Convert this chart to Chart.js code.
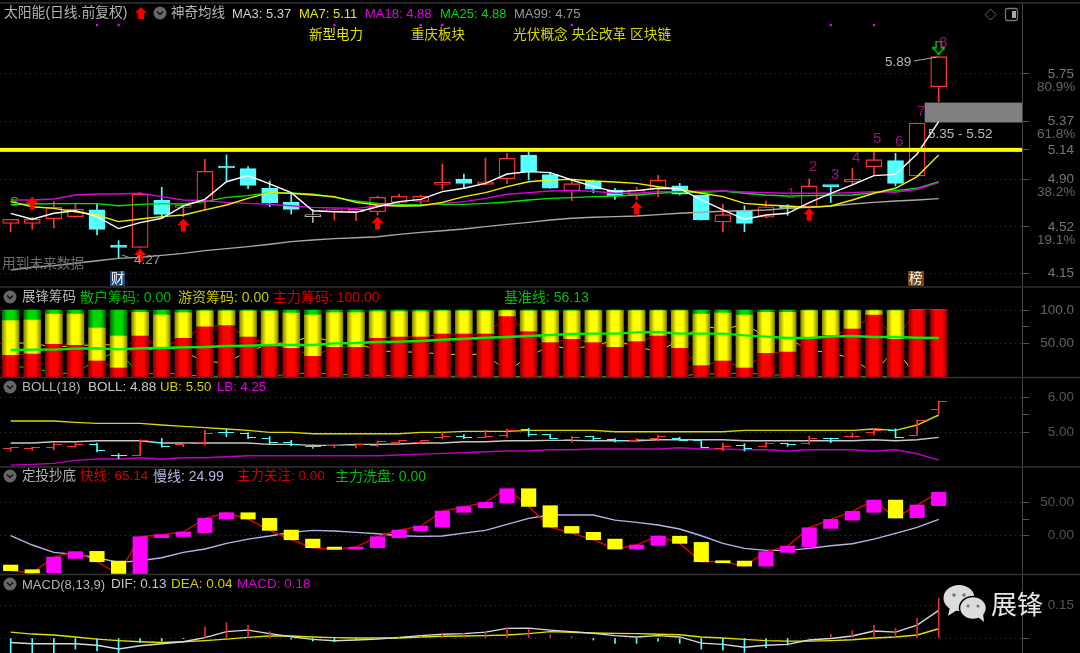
<!DOCTYPE html>
<html>
<head>
<meta charset="utf-8">
<title>太阳能</title>
<script src="https://cdn.jsdelivr.net/npm/chart.js@4/dist/chart.umd.js"></script>
<style>
  html, body { margin: 0; padding: 0; background: #000; width: 1080px; height: 653px; overflow: hidden; }
  canvas, svg { position: absolute; left: 0; }
  .t { position: absolute; white-space: nowrap; transform: translateY(-50%); font-family: "Liberation Sans", "Noto Sans CJK SC", sans-serif; font-size: 13.5px; line-height: 1; }
</style>
</head>
<body>
<div id="page"></div>
<script>
const days = Array.from({ length: 44 }, (_, i) => i);

// candles
const opens = [4.549,4.549,4.587,4.603,4.657,4.367,4.356,4.737,4.678,4.724,5.008,4.989,4.831,4.721,4.603,4.643,4.643,4.643,4.718,4.726,4.863,4.906,4.863,4.908,5.099,4.941,4.812,4.890,4.817,4.775,4.823,4.850,4.775,4.560,4.651,4.598,4.689,4.683,4.850,4.882,5.005,5.053,4.930,5.648];
const highs = [4.582,4.598,4.724,4.705,4.705,4.410,4.796,4.839,4.691,5.064,5.099,5.005,4.890,4.783,4.662,4.662,4.662,4.769,4.785,4.777,5.026,4.946,5.075,5.112,5.126,4.951,4.898,4.898,4.831,4.839,4.935,4.871,4.777,4.705,4.691,4.729,4.700,4.906,4.850,4.992,5.126,5.112,5.356,5.889];
const lows = [4.482,4.501,4.512,4.598,4.456,4.268,4.356,4.590,4.603,4.657,4.884,4.828,4.683,4.624,4.557,4.576,4.571,4.616,4.710,4.705,4.825,4.831,4.858,4.871,4.898,4.831,4.732,4.796,4.742,4.742,4.764,4.777,4.576,4.482,4.482,4.592,4.614,4.678,4.718,4.866,4.935,4.850,4.930,5.528];
const closes = [4.582,4.582,4.678,4.662,4.501,4.356,4.785,4.622,4.691,4.967,4.994,4.855,4.716,4.662,4.603,4.651,4.662,4.758,4.766,4.766,4.879,4.871,4.884,5.072,4.962,4.833,4.868,4.825,4.772,4.817,4.895,4.783,4.576,4.619,4.549,4.683,4.670,4.850,4.844,4.903,5.061,4.871,5.356,5.889];

// moving averages
const ma3 = [4.630,4.582,4.630,4.651,4.603,4.507,4.555,4.590,4.689,4.742,4.884,4.933,4.866,4.796,4.651,4.643,4.638,4.683,4.724,4.742,4.804,4.831,4.871,4.946,4.965,4.957,4.898,4.844,4.804,4.812,4.831,4.828,4.737,4.657,4.582,4.616,4.630,4.716,4.791,4.858,4.933,4.943,5.107,5.367];
const ma7 = [4.724,4.683,4.670,4.643,4.616,4.563,4.584,4.603,4.616,4.657,4.697,4.750,4.796,4.791,4.777,4.764,4.718,4.697,4.689,4.691,4.718,4.764,4.796,4.844,4.884,4.898,4.903,4.890,4.882,4.871,4.844,4.823,4.791,4.764,4.710,4.697,4.689,4.678,4.689,4.737,4.791,4.831,4.925,5.099];
const ma18 = [4.737,4.737,4.745,4.777,4.785,4.785,4.791,4.764,4.737,4.732,4.718,4.710,4.702,4.691,4.678,4.673,4.670,4.689,4.691,4.694,4.710,4.724,4.750,4.783,4.796,4.809,4.812,4.807,4.791,4.791,4.804,4.804,4.807,4.809,4.801,4.796,4.791,4.791,4.791,4.796,4.804,4.799,4.823,4.876];
const ma25 = [4.700,4.705,4.708,4.708,4.708,4.691,4.702,4.708,4.705,4.724,4.758,4.772,4.796,4.791,4.785,4.758,4.729,4.710,4.702,4.700,4.702,4.702,4.710,4.721,4.737,4.750,4.756,4.764,4.769,4.777,4.791,4.801,4.796,4.809,4.791,4.777,4.769,4.772,4.775,4.777,4.796,4.812,4.831,4.884];
const ma99 = [4.174,4.196,4.209,4.228,4.249,4.268,4.276,4.292,4.308,4.330,4.346,4.362,4.381,4.402,4.415,4.426,4.434,4.442,4.461,4.477,4.490,4.504,4.523,4.541,4.557,4.576,4.590,4.598,4.603,4.608,4.619,4.630,4.638,4.646,4.651,4.657,4.670,4.678,4.689,4.705,4.718,4.729,4.737,4.748];

// signals on the main panel, by day
const upArrows = [null,4.713,null,null,null,null,4.295,null,4.536,null,null,null,null,null,null,null,null,4.552,null,null,null,null,null,null,null,null,null,null,null,4.673,null,null,null,null,null,null,null,4.622,null,null,null,null,null,null];
const downArrows = days.map(i => (i === 43 ? 5.962 : null));
const dotDays = [4, 5, 15, 19, 20, 26, 38, 40];
const dotLevel = 6.144;
const resistance = 5.14;
const gapBand = [5.36, 5.52];
const priceTicks = [5.75, 5.37, 5.14, 4.90, 4.52, 4.15];

// 展锋筹码
const chipMain = [32.7,34.7,49,47.5,24.3,13.9,61.4,44.6,57.9,75.2,76.7,59.9,49,43.1,31.2,44.6,44.6,57.9,59.9,59.9,64.4,64.4,64.4,90.1,67.8,51.5,56.4,51.5,44.6,53,61.4,43.1,17.3,24.3,13.9,35.6,37.6,59.4,61.9,71.8,92.6,56.4,100,100];
const chipHot = [51.5,50.4,45,46.5,49,47.5,35.1,48,38.1,23.3,21.8,38.6,49,52.4,61.4,51.4,51.4,39.6,37.6,37.6,34.1,34.1,34.1,8.9,30.7,47,42.1,47.5,54.4,46,37.6,55.9,76.7,71.2,78.7,60.9,58.9,39.6,37.1,27.2,6.4,42.6,0,0];
const chipRetail = [15.8,14.9,6,6,26.7,38.6,3.5,7.4,4,1.5,1.5,1.5,2,4.5,7.4,4,4,2.5,2.5,2.5,1.5,1.5,1.5,1,1.5,1.5,1.5,1,1,1,1,1,6,4.5,7.4,3.5,3.5,1,1,1,1,1,0,0];
const chipBase = [40.6,41.1,41.1,42.6,43.1,41.6,43.1,43.6,44.6,45,46.5,47,48,48,48,50.5,51,52.5,53,54,55.9,57.4,58.9,59.9,61.4,62.9,64.4,64.9,64.9,66.8,67.3,64.9,64.9,64.9,62.4,60.4,58.4,58.4,60.4,61.4,59.9,59.9,58.9,58.4];

// BOLL
const bollUp = [5.33,5.33,5.33,5.292,5.264,5.264,5.264,5.217,5.179,5.142,5.104,5.066,5.009,5.009,4.972,4.972,4.972,4.972,4.972,5.009,5.009,5.038,5.038,5.038,5.066,5.066,5.066,5.066,5.028,5.028,5.028,5.028,5.028,5.028,5.066,5.066,5.066,5.066,5.066,5.066,5.104,5.066,5.217,5.5];
const bollMid = [4.708,4.708,4.745,4.745,4.774,4.774,4.774,4.708,4.708,4.708,4.708,4.708,4.670,4.670,4.642,4.642,4.670,4.670,4.679,4.708,4.708,4.745,4.745,4.774,4.774,4.783,4.783,4.774,4.774,4.774,4.802,4.802,4.802,4.802,4.774,4.774,4.774,4.774,4.774,4.774,4.802,4.774,4.802,4.868];
const bollLow = [4.085,4.104,4.132,4.217,4.255,4.255,4.292,4.255,4.292,4.292,4.321,4.349,4.349,4.349,4.349,4.349,4.349,4.349,4.368,4.396,4.415,4.434,4.462,4.481,4.491,4.519,4.519,4.538,4.538,4.538,4.538,4.575,4.538,4.538,4.519,4.519,4.481,4.519,4.519,4.519,4.481,4.519,4.406,4.226];

// 定投抄底
const fastOpen = [-44.4,-51.5,-56.1,-34.3,-23.7,-38.4,-58.1,-3.0,-1.0,4.5,25.3,34.8,26.3,8.6,-5.1,-17.2,-20.2,-18.2,-3.0,7.6,13.1,35.4,42.4,49.5,71.2,45.5,14.1,5.1,-5.1,-20.2,-14.6,0,-10.1,-37.9,-38.4,-46.0,-25.3,-16.7,11.1,23.7,35.4,54.0,27.3,45.5];
const fastClose = [-53.0,-56.6,-32.3,-24.2,-39.4,-58.1,-1.5,1.5,5.6,26.3,34.8,25.3,8.1,-6.1,-18.2,-20.7,-17.2,-1.5,8.6,14.6,37.4,43.9,50.5,71.2,44.4,13.1,4.0,-6.1,-20.2,-14.1,0,-11.6,-39.4,-39.4,-46.0,-24.2,-15.7,12.1,24.7,36.9,54.0,26.8,46.5,65.7];
const slowLine = [0,-14.1,-25.3,-28.3,-33.3,-40.4,-37.9,-33.3,-25.3,-20.2,-11.6,-5.1,-0.5,5.1,8.1,7.1,5.1,3,0,-1,-0.5,4,8.1,17.2,26.3,31.3,31.3,31.3,23.7,20.2,16.2,10.1,0,-11.6,-19.2,-22.2,-22.2,-19.2,-15.2,-12.1,-5.1,3.5,12.6,24.7];

// MACD
const dif = [-0.020,-0.026,-0.026,-0.026,-0.033,-0.050,-0.035,-0.026,-0.017,0.002,0.029,0.036,0.020,0.006,-0.006,-0.012,-0.009,-0.005,0.003,0.011,0.017,0.020,0.027,0.044,0.045,0.036,0.029,0.021,0.011,0.005,0.011,0.005,-0.023,-0.029,-0.042,-0.033,-0.029,-0.009,-0.002,0.009,0.032,0.027,0.059,0.126];
const dea = [0.027,0.018,0.014,0.005,-0.005,-0.012,-0.017,-0.020,-0.017,-0.012,-0.005,0.003,0.009,0.009,0.005,0.002,0,0,0,0.005,0.008,0.009,0.011,0.014,0.020,0.029,0.026,0.023,0.021,0.020,0.017,0.015,0.005,0,-0.006,-0.012,-0.014,-0.014,-0.012,-0.008,0,0.005,0.014,0.042];
const macd = [-0.070,-0.070,-0.070,-0.050,-0.059,-0.070,-0.020,-0.014,-0.003,0.050,0.070,0.059,0.029,-0.005,-0.014,-0.017,-0.009,-0.003,0.002,0.006,0.021,0.021,0.029,0.047,0.041,0.014,0.006,-0.009,-0.024,-0.024,-0.014,-0.024,-0.050,-0.055,-0.065,-0.044,-0.032,0,0.018,0.033,0.059,0.044,0.089,0.180];

const RED = '#ff3434';
const CYAN = '#54ffff';
const FONT = '"Liberation Sans", "Noto Sans CJK SC", sans-serif';
const page = document.getElementById('page');

const candleColor = i => (closes[i] > opens[i] ? RED : closes[i] < opens[i] ? CYAN : '#b0b0b0');
const candleColors = days.map(candleColor);

function line(data, color, order, width) {
  return { type: 'line', data, borderColor: color, borderWidth: width || 1.4, pointRadius: 0, tension: 0, order, spanGaps: false };
}

// minor ticks get a short mark on the axis but no label or grid line
function panel(top, height, min, max, ticks, minor, tickColor, format, datasets, plugins) {
  const cv = document.createElement('canvas');
  cv.width = 1074;
  cv.height = height;
  cv.style.top = top + 'px';
  page.appendChild(cv);
  return new Chart(cv, {
    type: 'bar',
    data: { labels: days, datasets },
    plugins: plugins || [],
    options: {
      responsive: false,
      animation: false,
      devicePixelRatio: 1,
      events: [],
      layout: { padding: 0, autoPadding: false },
      plugins: { legend: { display: false }, tooltip: { enabled: false } },
      scales: {
        x: { type: 'linear', display: false, offset: false, min: -0.4943, max: 46.86, grid: { display: false, offset: false } },
        y: {
          position: 'right',
          min, max,
          afterBuildTicks: s => { s.ticks = ticks.concat(minor).map(value => ({ value })); },
          afterFit: s => { s.width = 52; s.paddingTop = 0; s.paddingBottom = 0; },
          grid: {
            color: c => (c.tick && minor.includes(c.tick.value) ? 'transparent' : '#3a3a3a'),
            tickColor: '#555', tickLength: 7, tickBorderDash: []
          },
          border: { color: '#444', dash: [1, 4] },
          ticks: { autoSkip: false, crossAlign: 'far', color: tickColor, font: { family: FONT, size: 13.5 }, callback: v => (minor.includes(v) ? '' : format(v)) }
        }
      }
    }
  });
}

// little images used as point styles
function arrowImage(color, down, hollow) {
  const c = document.createElement('canvas');
  c.width = 13; c.height = 14;
  const g = c.getContext('2d');
  if (down) { g.translate(0, 14); g.scale(1, -1); }
  g.beginPath();
  g.moveTo(6.5, 0.5); g.lineTo(12.5, 7); g.lineTo(9, 7); g.lineTo(9, 13.5); g.lineTo(4, 13.5); g.lineTo(4, 7); g.lineTo(0.5, 7);
  g.closePath();
  if (hollow) { g.strokeStyle = color; g.lineWidth = 1.4; g.stroke(); } else { g.fillStyle = color; g.fill(); }
  return c;
}
function tickImage(color, side) {
  const c = document.createElement('canvas');
  c.width = 16; c.height = 1;
  const g = c.getContext('2d');
  g.fillStyle = color;
  g.fillRect(side < 0 ? 0 : 8, 0, 8, 1);
  return c;
}

// main price panel
const levelPlugin = {
  id: 'levels',
  beforeDatasetsDraw(chart) {
    const { ctx, scales: { y }, chartArea: a } = chart;
    const y0 = y.getPixelForValue(gapBand[1]);
    const y1 = y.getPixelForValue(gapBand[0]);
    ctx.fillStyle = '#808080';
    ctx.fillRect(chart.scales.x.getPixelForValue(42.35), y0, a.right - chart.scales.x.getPixelForValue(42.35), y1 - y0);
  },
  afterDatasetsDraw(chart) {
    const { ctx, scales: { y }, chartArea: a } = chart;
    ctx.fillStyle = '#ffff00';
    ctx.fillRect(a.left, y.getPixelForValue(resistance) - 2, a.right - a.left, 4);
  }
};
const upImg = arrowImage('#ff0000');
const downImg = arrowImage('#00e000', true, true);
panel(3, 284, 4.0375, 6.3207, priceTicks, [], '#777', v => v.toFixed(2), [
  { type: 'line', data: upArrows, showLine: false, pointStyle: upImg, pointRadius: 6, order: 0 },
  { type: 'line', data: downArrows, showLine: false, pointStyle: downImg, pointRadius: 6, order: 0 },
  { type: 'line', data: days.map(i => (dotDays.includes(i) ? dotLevel : null)), showLine: false, pointStyle: 'rect', pointRadius: 1.6, pointBackgroundColor: '#ff00ff', pointBorderWidth: 0, order: 0 },
  line(ma3, '#ffffff', 1),
  line(ma7, '#f0f000', 2),
  line(ma18, '#e000e0', 3),
  line(ma25, '#00e800', 4),
  line(ma99, '#a8a8a8', 5),
  { data: opens.map((o, i) => [o, closes[i]]), grouped: false, barThickness: 16, minBarLength: 2, borderSkipped: false, borderWidth: 1.3, borderColor: candleColors, backgroundColor: days.map(i => (closes[i] < opens[i] ? CYAN : '#000')), order: 9 },
  { data: lows.map((l, i) => [l, highs[i]]), grouped: false, barThickness: 1, backgroundColor: candleColors, order: 10 }
], [levelPlugin]);

// chips panel, bars shaded like cylinders
function shade(dark, bright) {
  return ctx => {
    const x = ctx.chart.scales.x.getPixelForValue(ctx.dataIndex);
    if (!Number.isFinite(x)) return bright;
    const g = ctx.chart.ctx.createLinearGradient(x - 8.5, 0, x + 8.5, 0);
    g.addColorStop(0, dark);
    g.addColorStop(0.3, bright);
    g.addColorStop(0.7, bright);
    g.addColorStop(1, dark);
    return g;
  };
}
panel(288, 90, -1, 132.7, [100, 50], [75], '#666', v => (v === 100 ? '100.0' : '50.00'), [
  line(chipBase, '#00f000', 0, 2.4),
  { data: chipMain, stack: 'chips', grouped: false, barThickness: 17, backgroundColor: shade('#8a0000', '#ff0000'), order: 1 },
  { data: chipHot, stack: 'chips', grouped: false, barThickness: 17, backgroundColor: shade('#8a8a00', '#ffff00'), order: 1 },
  { data: chipRetail, stack: 'chips', grouped: false, barThickness: 17, backgroundColor: shade('#006a00', '#00d800'), order: 1 },
  line(chipMain, '#d00000', 2, 1),
  line(chipHot, '#e0e000', 2, 1),
  line(chipRetail, '#00e000', 2, 1)
]);

// BOLL panel with OHLC bars
const tickStyles = side => days.map(i => tickImage(candleColor(i), side));
panel(378, 89, 4.031, 6.545, [6, 5], [5.5], '#555', v => v.toFixed(2), [
  { type: 'line', data: opens, showLine: false, pointStyle: tickStyles(-1), pointRadius: 4, order: 0 },
  { type: 'line', data: closes, showLine: false, pointStyle: tickStyles(1), pointRadius: 4, order: 0 },
  { data: lows.map((l, i) => [l, highs[i]]), grouped: false, barThickness: 1, backgroundColor: candleColors, order: 1 },
  line(bollUp, '#d8d800', 2),
  line(bollMid, '#c8c8c8', 2),
  line(bollLow, '#c000c0', 2)
]);

// 定投抄底 panel
panel(468, 106, -58, 102.6, [50, 0], [25], '#555', v => v.toFixed(2), [
  { data: fastOpen.map((o, i) => [o, fastClose[i]]), grouped: false, barThickness: 14.5, minBarLength: 2, backgroundColor: days.map(i => (fastClose[i] >= fastOpen[i] ? '#ff00ff' : '#ffff00')), order: 0 },
  line(fastClose, '#e00000', 1),
  line(slowLine, '#b4b4e8', 1)
]);

// MACD panel
panel(575, 78, -0.068, 0.2864, [0.15, 0], [], '#555', v => (v === 0 ? '' : v.toFixed(2)), [
  { data: macd, grouped: false, barThickness: 1, backgroundColor: macd.map(v => (v >= 0 ? '#e03030' : CYAN)), order: 0 },
  line(dif, '#d8d8d8', 1),
  line(dea, '#e0e000', 2)
]);

// separators, icons and watermark
const chevron = (x, y) => `<circle cx="${x}" cy="${y}" r="6.5" fill="#666"/><polyline points="${x - 3},${y - 1.5} ${x},${y + 1.5} ${x + 3},${y - 1.5}" fill="none" stroke="#111" stroke-width="1.5"/>`;
const rule = y => `<line x1="0" y1="${y}" x2="1080" y2="${y}" stroke="#333" stroke-width="1.5"/>`;
const svg = `<svg style="top:0" width="1080" height="653" xmlns="http://www.w3.org/2000/svg">
  ${[3, 287, 377.5, 467, 574.5].map(rule).join('')}
  ${[[160, 13], [10, 297], [10, 387], [10, 476], [10, 584]].map(p => chevron(p[0], p[1])).join('')}
  <polygon points="141,7 147,13 144,13 144,19 138,19 138,13 135,13" fill="#f00000"/>
  <polygon points="990.5,9 996,14.5 990.5,20 985,14.5" fill="none" stroke="#666"/>
  <rect x="1005.5" y="8.5" width="12" height="12" rx="2" fill="none" stroke="#777" stroke-width="1.3"/>
  <rect x="1012" y="11" width="4" height="7" fill="#aaa"/>
  <line x1="914" y1="61" x2="937" y2="57" stroke="#aaa"/>
  <line x1="122" y1="255" x2="131" y2="258" stroke="#999"/>
  <rect x="110" y="271" width="15" height="15" fill="#18497a"/>
  <rect x="908" y="271" width="16" height="15" fill="#7a4510"/>
  <ellipse cx="959" cy="598" rx="15.5" ry="13" fill="#dcdcdc"/>
  <polygon points="950,607 948,616 957,610" fill="#dcdcdc"/>
  <circle cx="954" cy="595" r="1.8" fill="#777"/><circle cx="964" cy="595" r="1.8" fill="#777"/>
  <ellipse cx="973" cy="608" rx="13.5" ry="11.5" fill="#dcdcdc" stroke="#000" stroke-width="1.5"/>
  <polygon points="978,617 984,622 983,613" fill="#dcdcdc"/>
  <circle cx="968" cy="606" r="1.6" fill="#777"/><circle cx="978" cy="606" r="1.6" fill="#777"/>
</svg>`;
page.insertAdjacentHTML('beforeend', svg);

// text: label, left, middle, colour, optional size
const GREY = '#b4b4b4';
const NUM = '#a0107e';
const texts = [
  ['太阳能(日线.前复权)', 4, 13, GREY, 13.8], ['神奇均线', 171, 13, GREY],
  ['MA3: 5.37', 232, 13, '#cfcfcf', 13], ['MA7: 5.11', 299, 13, '#e8e800', 13], ['MA18: 4.88', 365, 13, '#e600e6', 13], ['MA25: 4.88', 440, 13, '#00d800', 13], ['MA99: 4.75', 514, 13, '#999', 13],
  ['新型电力', 309, 35, '#e6e600'], ['重庆板块', 411, 35, '#d8d800'], ['光伏概念 央企改革 区块链', 513, 35, '#d8d800', 13.7],
  ['5.89', 885, 62, '#bbb'], ['5.35 - 5.52', 928, 134, '#bbb'], ['4.27', 134, 260, '#999'], ['用到未来数据', 2, 264, '#6e6e6e', 13.7],
  ['1', 787, 192, NUM, 15], ['2', 809, 165, NUM, 15], ['3', 831, 173, NUM, 15], ['4', 852, 156, NUM, 15], ['5', 873, 137, NUM, 15], ['6', 895, 140, NUM, 15], ['7', 917, 110, NUM, 15], ['8', 939, 41, NUM, 15],
  ['财', 111, 279, '#fff'], ['榜', 909, 279, '#fff'], ['S', 10, 202, '#00d000'],
  ['80.9%', 1037, 87, '#666'], ['61.8%', 1037, 134, '#666'], ['38.2%', 1037, 192, '#666'], ['19.1%', 1037, 240, '#666'],
  ['展锋筹码', 22, 297, GREY], ['散户筹码: 0.00', 80, 297, '#00b800', 14], ['游资筹码: 0.00', 178, 297, '#c4c400', 14], ['主力筹码: 100.00', 273, 297, '#d80000', 14], ['基准线: 56.13', 504, 297, '#00c000', 14],
  ['BOLL(18)', 22, 387, GREY], ['BOLL: 4.88', 88, 387, '#c8c8c8'], ['UB: 5.50', 160, 387, '#d0d000', 13.2], ['LB: 4.25', 217, 387, '#e000e0', 13.2],
  ['定投抄底', 22, 476, GREY], ['快线: 65.14', 80, 476, '#d80000'], ['慢线: 24.99', 153, 476, '#b4b4e0', 14], ['主力关注: 0.00', 237, 476, '#d00000'], ['主力洗盘: 0.00', 335, 476, '#00c000', 14],
  ['MACD(8,13,9)', 22, 584, GREY, 13], ['DIF: 0.13', 111, 584, '#c8c8c8'], ['DEA: 0.04', 171, 584, '#d0d000'], ['MACD: 0.18', 237, 584, '#d800d8'],
  ['展锋', 991, 605, '#e8e8e8', 26]
];
texts.forEach(([s, x, y, color, size]) => {
  const d = document.createElement('div');
  d.className = 't';
  d.textContent = s;
  d.style.left = x + 'px';
  d.style.top = y + 'px';
  d.style.color = color;
  if (size) d.style.fontSize = size + 'px';
  page.appendChild(d);
});
</script>
</body>
</html>
